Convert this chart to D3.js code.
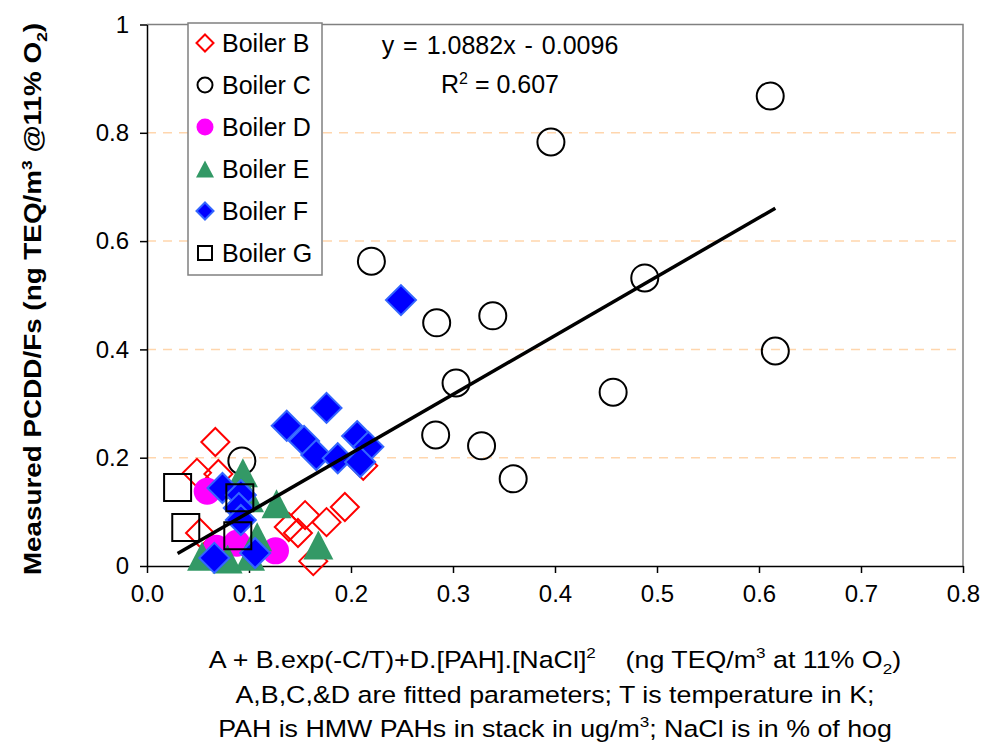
<!DOCTYPE html>
<html>
<meta charset="utf-8">
<head>
<style>
body { margin: 0; background: #fff; }
text { font-family: "Liberation Sans", Arial, sans-serif; fill: #000; }
.axis text { font-size: 24px; }
.axis path, .axis line { stroke: #000; stroke-width: 1.5px; }
.grid { stroke: #ffd6ad; stroke-width: 1.5px; stroke-dasharray: 9,7; }
.frame { stroke: #808080; stroke-width: 1.5px; fill: none; }
.xtitle { font-size: 23.5px; }
</style>
</head>
<body>
<script src="https://cdnjs.cloudflare.com/ajax/libs/d3/7.8.5/d3.min.js"></script>
<script>

// values: [x, y]
var boilerB = [[0.067,0.229],[0.049,0.172],[0.070,0.170],[0.052,0.061],[0.194,0.109],[0.176,0.081],
               [0.155,0.094],[0.139,0.072],[0.148,0.061],[0.163,0.009],[0.212,0.185]];
var boilerC = [[0.611,0.868],[0.396,0.783],[0.220,0.563],[0.488,0.532],[0.339,0.462],[0.284,0.449],
               [0.303,0.338],[0.616,0.397],[0.457,0.321],[0.283,0.242],[0.328,0.222],[0.359,0.161],[0.093,0.194]];
var boilerD = [[0.059,0.138],[0.068,0.033],[0.088,0.042],[0.126,0.028]];
var boilerE = [[0.094,0.172],[0.127,0.115],[0.100,0.126],[0.108,0.054],[0.168,0.039],[0.054,0.018],
               [0.079,0.013],[0.101,0.018]];
var boilerF = [[0.249,0.491],[0.137,0.259],[0.176,0.292],[0.154,0.231],[0.166,0.205],[0.187,0.199],
               [0.206,0.240],[0.217,0.220],[0.209,0.192],[0.074,0.144],[0.092,0.131],[0.090,0.107],
               [0.092,0.085],[0.066,0.015],[0.106,0.024]];
var boilerG = [[0.030,0.145],[0.091,0.126],[0.038,0.071],[0.089,0.056]];

var seriesNames = ["Boiler B", "Boiler C", "Boiler D", "Boiler E", "Boiler F", "Boiler G"];
var xTicks = [0, 0.1, 0.2, 0.3, 0.4, 0.5, 0.6, 0.7, 0.8];
var yTicks = [0, 0.2, 0.4, 0.6, 0.8, 1];
var gridTicks = [0.2, 0.4, 0.6, 0.8];
var slope = 1.0882, intercept = -0.0096, r2 = 0.607;

var width = 985, height = 748;
var svg = d3.select("body").append("svg")
    .attr("width", width)
    .attr("height", height);

var x = d3.scaleLinear().domain([0, 0.8]).range([147, 963]);
var y = d3.scaleLinear().domain([0, 1]).range([566, 24.5]);

// grid
svg.selectAll(".grid")
  .data(gridTicks).enter()
  .append("line")
  .attr("class", "grid")
  .attr("x1", x(0)).attr("x2", x(0.8))
  .attr("y1", d => y(d)).attr("y2", d => y(d));

// top + right frame
svg.append("path")
  .attr("class", "frame")
  .attr("d", "M" + x(0) + "," + y(1) + "H" + x(0.8) + "V" + y(0));

// axes
svg.append("g")
  .attr("class", "axis")
  .attr("transform", "translate(0," + y(0) + ")")
  .call(d3.axisBottom(x).tickValues(xTicks).tickSize(7).tickSizeOuter(0).tickPadding(12)
        .tickFormat(d3.format(".1f")));

svg.append("g")
  .attr("class", "axis")
  .attr("transform", "translate(" + x(0) + ",0)")
  .call(d3.axisLeft(y).tickValues(yTicks).tickSize(7).tickSizeOuter(0).tickPadding(11)
        .tickFormat(d => (d === 0 || d === 1) ? d : d.toFixed(1)));

// marker shapes, centred on 0,0
function diamond(r) { return "M0," + (-r) + "L" + r + ",0L0," + r + "L" + (-r) + ",0Z"; }
function square(s) { return "M" + (-s/2) + "," + (-s/2) + "h" + s + "v" + s + "h" + (-s) + "Z"; }
function triangle(w, h) { return "M0," + (-h/2) + "L" + (w/2) + "," + (h/2) + "L" + (-w/2) + "," + (h/2) + "Z"; }
function circle(r) { return "M" + (-r) + ",0a" + r + "," + r + " 0 1,0 " + (2*r) + ",0a" + r + "," + r + " 0 1,0 " + (-2*r) + ",0Z"; }

var styles = [
  {data: boilerB, big: diamond(14), small: diamond(8.5), fill: "none", stroke: "#ff0000", sw: 2},
  {data: boilerC, big: circle(13.5), small: circle(7.5), fill: "none", stroke: "#000", sw: 2},
  {data: boilerD, big: circle(13.5), small: circle(8.5), fill: "#ff00ff", stroke: "#ff00ff", sw: 0},
  {data: boilerE, big: triangle(30, 29), small: triangle(18, 17), fill: "#339966", stroke: "#339966", sw: 0},
  {data: boilerF, big: diamond(15), small: diamond(8.5), fill: "#0000ff", stroke: "#3366ff", sw: 2},
  {data: boilerG, big: square(27), small: square(14), fill: "none", stroke: "#000", sw: 2}
];

styles.forEach(function(s) {
  svg.append("g").selectAll("path")
    .data(s.data).enter()
    .append("path")
    .attr("transform", d => "translate(" + x(d[0]) + "," + y(d[1]) + ")")
    .attr("d", s.big)
    .style("fill", s.fill)
    .style("stroke", s.stroke)
    .style("stroke-width", s.sw);
});

// trendline over the data range
var allX = [].concat(boilerB, boilerC, boilerD, boilerE, boilerF, boilerG).map(d => d[0]);
var ext = d3.extent(allX);
svg.append("line")
  .attr("x1", x(ext[0])).attr("y1", y(slope * ext[0] + intercept))
  .attr("x2", x(ext[1])).attr("y2", y(slope * ext[1] + intercept))
  .style("stroke", "#000").style("stroke-width", 3.5);

// equation
svg.append("text")
  .attr("x", 500).attr("y", 54)
  .attr("text-anchor", "middle")
  .style("font-size", "25px")
  .style("word-spacing", "2px")
  .text("y = " + slope.toFixed(4) + "x - " + Math.abs(intercept).toFixed(4));
var rt = svg.append("text")
  .attr("x", 500).attr("y", 93)
  .attr("text-anchor", "middle")
  .style("font-size", "25px");
rt.append("tspan").text("R");
rt.append("tspan").attr("dy", -9).style("font-size", "16px").text("2");
rt.append("tspan").attr("dy", 9).text(" = " + r2);

// legend
var legend = svg.append("g");
legend.append("rect")
  .attr("x", 188).attr("y", 23).attr("width", 134).attr("height", 252)
  .style("fill", "#fff").style("stroke", "#808080").style("stroke-width", 1.5);
var rows = legend.selectAll(".row")
  .data(seriesNames).enter()
  .append("g")
  .attr("transform", (d, i) => "translate(0," + (43 + i * 42) + ")");
rows.append("path")
  .attr("transform", "translate(205,0)")
  .attr("d", (d, i) => styles[i].small)
  .style("fill", (d, i) => styles[i].fill)
  .style("stroke", (d, i) => styles[i].stroke)
  .style("stroke-width", (d, i) => styles[i].sw);
rows.append("text")
  .attr("x", 222).attr("y", 8.5)
  .style("font-size", "25px")
  .text(d => d);

// y axis title (stretched along its length like the original)
var yt = svg.append("text")
  .attr("transform", "translate(41,299) rotate(-90) scale(1.16,1)")
  .attr("text-anchor", "middle")
  .style("font-size", "24px")
  .style("font-weight", "bold");
yt.append("tspan").text("Measured PCDD/Fs (ng TEQ/m");
yt.append("tspan").attr("dy", -9).style("font-size", "15px").text("3");
yt.append("tspan").attr("dy", 9).text(" @11% O");
yt.append("tspan").attr("dy", 6).style("font-size", "15px").text("2");
yt.append("tspan").attr("dy", -6).text(")");

// x axis title, three lines, horizontally stretched
function xline(yPos) {
  return svg.append("text").attr("class", "xtitle")
    .attr("transform", "translate(555," + yPos + ") scale(1.14,1)")
    .attr("text-anchor", "middle");
}
var l1 = xline(668);
l1.append("tspan").text("A + B.exp(-C/T)+D.[PAH].[NaCl]");
l1.append("tspan").attr("dy", -10).style("font-size", "15px").text("2");
l1.append("tspan").attr("dy", 10).text("\u00a0\u00a0\u00a0\u00a0(ng TEQ/m");
l1.append("tspan").attr("dy", -10).style("font-size", "15px").text("3");
l1.append("tspan").attr("dy", 10).text(" at 11% O");
l1.append("tspan").attr("dy", 6).style("font-size", "15px").text("2");
l1.append("tspan").attr("dy", -6).text(")");

xline(703).text("A,B,C,&D are fitted parameters; T is temperature in K;");

var l3 = xline(737);
l3.append("tspan").text("PAH is HMW PAHs in stack in ug/m");
l3.append("tspan").attr("dy", -10).style("font-size", "15px").text("3");
l3.append("tspan").attr("dy", 10).text("; NaCl is in % of hog");

</script>
</body>
</html>
